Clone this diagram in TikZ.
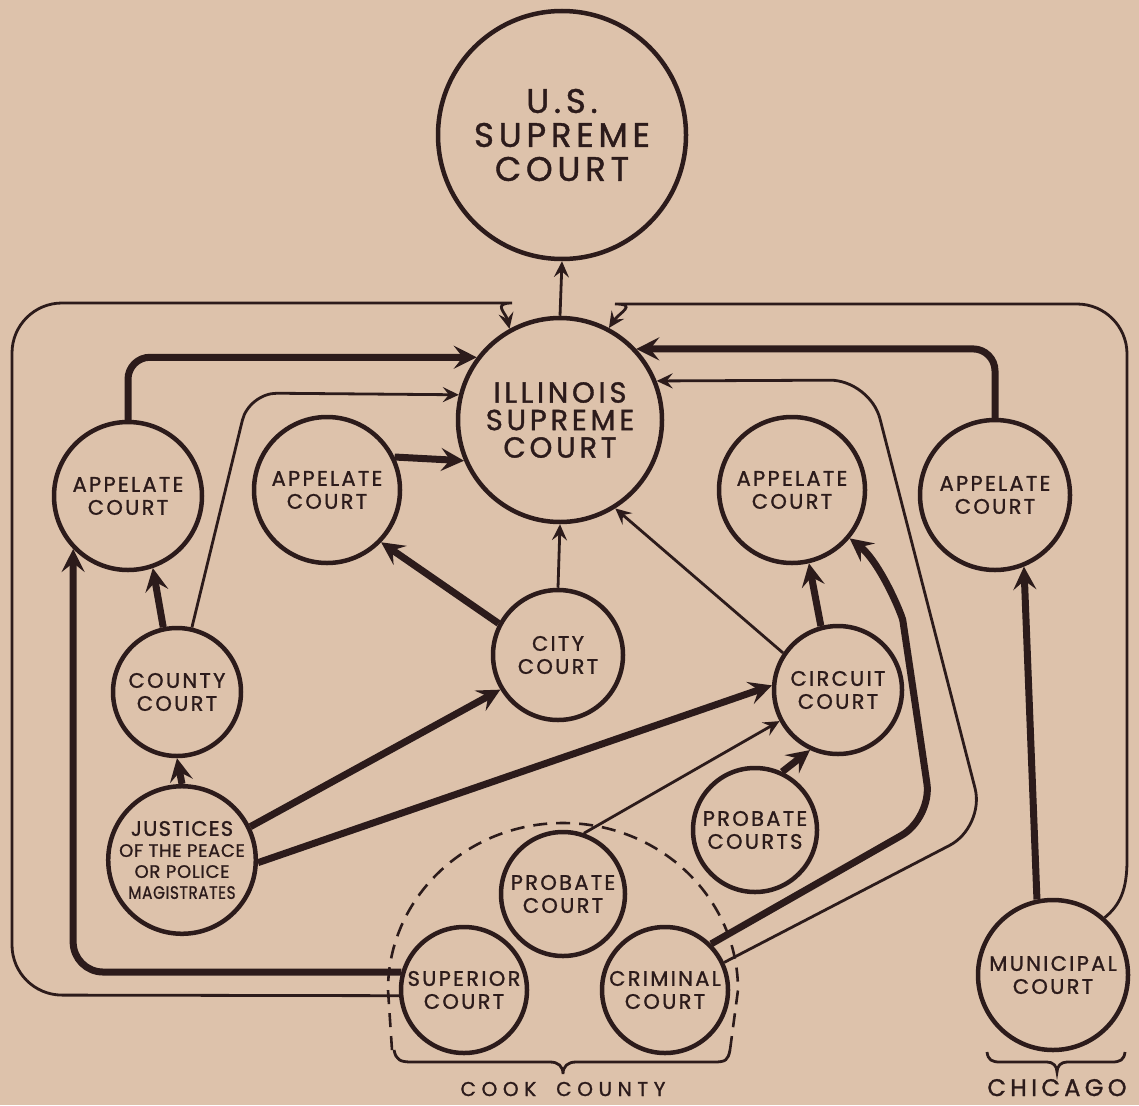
\documentclass[tikz,border=0pt]{standalone}
\usepackage{fontspec}
\setmainfont{Poppins}[LetterSpace=11,FakeBold=1.2]
\usetikzlibrary{arrows.meta}
\definecolor{paper}{RGB}{221,194,171}
\definecolor{ink}{RGB}{44,27,27}
\tikzset{
  court/.style={circle, draw=ink, line width=4.5pt, inner sep=0pt, text=ink, align=center,
    font=\fontsize{21}{23}\selectfont},
  thinln/.style={draw=ink, line width=2.8pt, -{Stealth[length=16pt,width=15pt,inset=6pt]}},
  thickln/.style={draw=ink, line width=7pt, -{Stealth[length=23pt,width=23pt,inset=9pt]}},
  plainln/.style={draw=ink, line width=2.8pt},
  lbl/.style={text=ink, inner sep=0pt, anchor=base, font=\fontsize{20}{22}\selectfont\addfontfeatures{LetterSpace=28}},
}
\begin{document}
\begin{tikzpicture}[x=1pt,y=-1pt]
\fill[paper] (0,0) rectangle (1139,1105);
\useasboundingbox (0,0) rectangle (1139,1105);

% nodes
\node[court, minimum size=248pt, font=\fontsize{34}{34}\selectfont\addfontfeatures{LetterSpace=14}] (uss) at (562,135) {U.S.\\SUPREME\\COURT};
\node[court, minimum size=204pt, font=\fontsize{29}{27.5}\selectfont\addfontfeatures{LetterSpace=13}] (isc) at (560,420) {ILLINOIS\\SUPREME\\COURT};
\node[court, minimum size=148pt] (a1) at (128,496) {APPELATE\\COURT};
\node[court, minimum size=146pt] (a2) at (327,490) {APPELATE\\COURT};
\node[court, minimum size=146pt] (a3) at (792,490) {APPELATE\\COURT};
\node[court, minimum size=150pt] (a4) at (995,495) {APPELATE\\COURT};
\node[court, minimum size=128pt] (county) at (177,692) {COUNTY\\COURT};
\node[court, minimum size=130pt] (city) at (558,655) {CITY\\COURT};
\node[court, minimum size=128pt] (circuit) at (838,690) {CIRCUIT\\COURT};
\node[court, minimum size=146pt, font=\fontsize{18}{21}\selectfont\addfontfeatures{LetterSpace=4}] (justices) at (182,860)
  {{\fontsize{21}{21}\selectfont\addfontfeatures{LetterSpace=6}JUSTICES}\\OF THE PEACE\\OR POLICE\\\scalebox{0.85}[1]{MAGISTRATES}};
\node[court, minimum size=124pt] (probs) at (755,830) {PROBATE\\COURTS};
\node[court, minimum size=124pt] (probc) at (563,894) {PROBATE\\COURT};
\node[court, minimum size=126pt] (superior) at (464,990) {SUPERIOR\\COURT};
\node[court, minimum size=126pt] (criminal) at (665,990) {CRIMINAL\\COURT};
\node[court, minimum size=150pt] (municipal) at (1053,975) {MUNICIPAL\\COURT};

% Cook County boundary and braces
\draw[ink, line width=2.6pt, dash pattern=on 14pt off 9pt]
  (392,1050) -- (388,990) .. controls (388,897.8) and (466.3,823) .. (563,823)
  .. controls (659.7,823) and (738,897.8) .. (738,990) -- (730,1050);
\draw[plainln] (394,1050) .. controls (396,1060) and (400,1062) .. (412,1062) -- (550,1062)
  .. controls (558,1062) and (563,1066) .. (563,1074)
  .. controls (563,1066) and (568,1062) .. (576,1062) -- (714,1062)
  .. controls (726,1062) and (728,1060) .. (730,1050);
\draw[plainln] (987,1052) .. controls (988,1060) and (992,1062) .. (1000,1062) -- (1047,1062)
  .. controls (1053,1062) and (1057,1066) .. (1057,1072)
  .. controls (1057,1066) and (1061,1062) .. (1067,1062) -- (1112,1062)
  .. controls (1120,1062) and (1124,1060) .. (1125,1052);
\node[lbl] (cook) at (563,1096) {COOK\hspace{20pt}COUNTY};
\node[lbl, font=\fontsize{24}{26}\selectfont\addfontfeatures{LetterSpace=18}] (chicago) at (1057,1096) {CHICAGO};

% connectors
\draw[thinln] (isc.north) -- (uss.south);
\draw[thinln] (superior.185) [rounded corners=50] -- (12,995) -- (12,303) -- (462,303)
  [sharp corners] .. controls (492,303) and (506,313) .. (isc.119);
\draw[thinln] (municipal.48) .. controls (1120,905) and (1127,890) .. (1127,860)
  [rounded corners=50] -- (1127,304) -- (665,304)
  [sharp corners] .. controls (638,304) and (619,313) .. (isc.62);
\draw[thickln, rounded corners=22] (a1.north) |- (isc.143);
\draw[thinln, rounded corners=28] (county.77) -- (249,393) -- (isc.166);
\draw[thickln] (a2.26) -- (isc.203);
\draw[thickln, rounded corners=30] (superior.164) -| (a1.224);
\draw[thickln] (county.102) -- (a1.-71);
\draw[thickln] (justices.north) -- (county.south);
\draw[thickln] (justices.26) -- (city.211);
\draw[thickln] (justices.-2) -- (circuit.176);
\draw[thickln] (city.152) -- (a2.-44);
\draw[thinln] (city.north) -- (isc.south);
\draw[thinln] (circuit.146) -- (isc.-58);
\draw[thickln] (circuit.105) -- (a3.-77);
\draw[thickln] (probs.65) -- (circuit.245);
\draw[thinln] (probc.71) -- (circuit.208);
\draw[thickln] (criminal.45) [rounded corners=35] -- (932,818) -- (908,655)
  [sharp corners] .. controls (902,615) and (880,562) .. (a3.-40);
\draw[thinln, rounded corners=40] (criminal.25) -- (985,827) -- (870,380) -- (isc.22);
\draw[thickln] (municipal.102) -- (a4.-68);
\draw[thickln, rounded corners=22] (a4.north) |- (isc.43);
\end{tikzpicture}
\end{document}
